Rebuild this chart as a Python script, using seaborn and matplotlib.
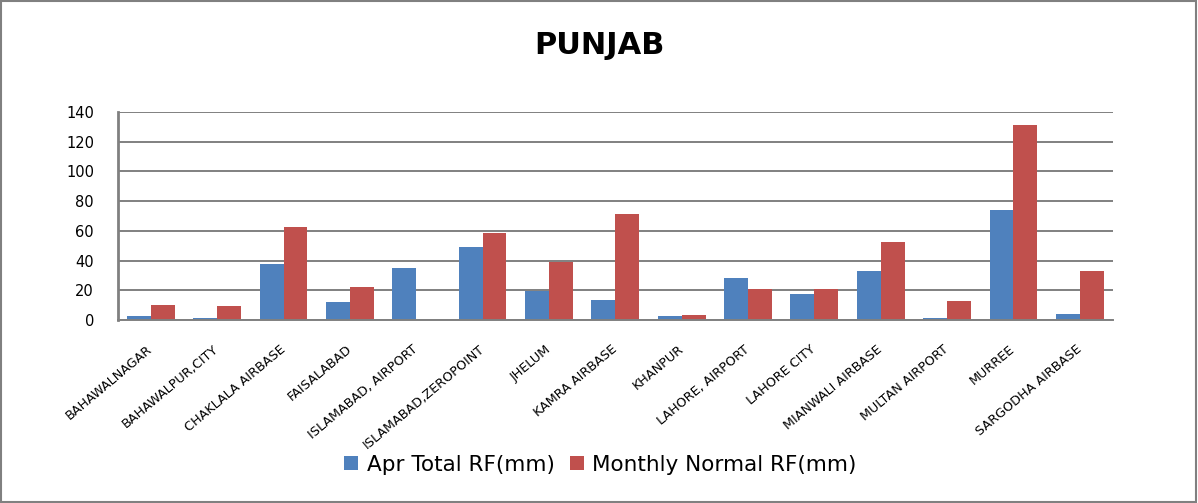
import pandas as pd
import matplotlib.pyplot as plt
import seaborn as sns
from matplotlib.patches import Rectangle

stations = ['BAHAWALNAGAR', 'BAHAWALPUR,CITY', 'CHAKLALA AIRBASE', 'FAISALABAD',
            'ISLAMABAD, AIRPORT', 'ISLAMABAD,ZEROPOINT', 'JHELUM', 'KAMRA AIRBASE',
            'KHANPUR', 'LAHORE, AIRPORT', 'LAHORE CITY', 'MIANWALI AIRBASE',
            'MULTAN AIRPORT', 'MURREE', 'SARGODHA AIRBASE']
apr_total = [2.7, 1.3, 37.9, 12.1, 34.9, 49.1, 19.5, 13.4, 2.7, 28.2, 17.7, 32.9, 1.3, 73.9, 4.0]
monthly_normal = [10.1, 9.4, 62.5, 22.2, 0.0, 58.7, 39.2, 71.2, 3.4, 20.8, 20.8, 52.4, 12.8, 131.0, 32.9]

series = ['Apr Total RF(mm)', 'Monthly Normal RF(mm)']
colores = ['#4F81BD', '#C0504D']

df = pd.DataFrame({'Estacion': stations * 2,
                   'Serie': [series[0]] * len(stations) + [series[1]] * len(stations),
                   'RF': apr_total + monthly_normal})

sns.set_style('white')
plt.rcParams['text.color'] = 'black'
plt.rcParams['xtick.color'] = 'black'
plt.rcParams['ytick.color'] = 'black'

fig = plt.figure(figsize=(11.98, 5.03), dpi=100)
ax = fig.add_axes([0.0982, 0.3638, 0.8308, 0.4135])

sns.barplot(data=df, x='Estacion', y='RF', hue='Serie', palette=colores,
            width=0.72, saturation=1, linewidth=0, ax=ax, legend=True)

ax.set_ylim(0, 140)
ax.set_yticks(range(0, 141, 20))
ax.set_xlim(-0.5, len(stations) - 0.5)
ax.yaxis.grid(True, color='#808080', linewidth=1.4)
ax.set_axisbelow(True)
for s in ['top', 'right']:
    ax.spines[s].set_visible(False)
ax.spines['left'].set_color('#808080')
ax.spines['left'].set_linewidth(2)
ax.spines['bottom'].set_color('#808080')
ax.spines['bottom'].set_linewidth(1.4)
ax.tick_params(axis='both', length=0)
ax.tick_params(axis='y', labelsize=10.5, pad=17)
ax.set_xticks(range(len(stations)))
ax.set_xticklabels(stations, rotation=40, ha='right', va='center',
                   rotation_mode='anchor', fontsize=9.2)
ax.tick_params(axis='x', pad=20)
ax.set_xlabel('')
ax.set_ylabel('')

ax.legend(loc='center', bbox_to_anchor=(0.485, -0.695), ncol=2, frameon=False,
          fontsize=15.5, handlelength=0.65, handleheight=0.65, columnspacing=0.7,
          handletextpad=0.4)

fig.text(0.5, 0.91, 'PUNJAB', ha='center', va='center', fontsize=22, fontweight='bold')
fig.patches.append(Rectangle((0.001, 0.001), 0.997, 0.997, transform=fig.transFigure,
                             fill=False, edgecolor='#808080', linewidth=1.5))

plt.savefig('out.png', dpi=100)
plt.close()
